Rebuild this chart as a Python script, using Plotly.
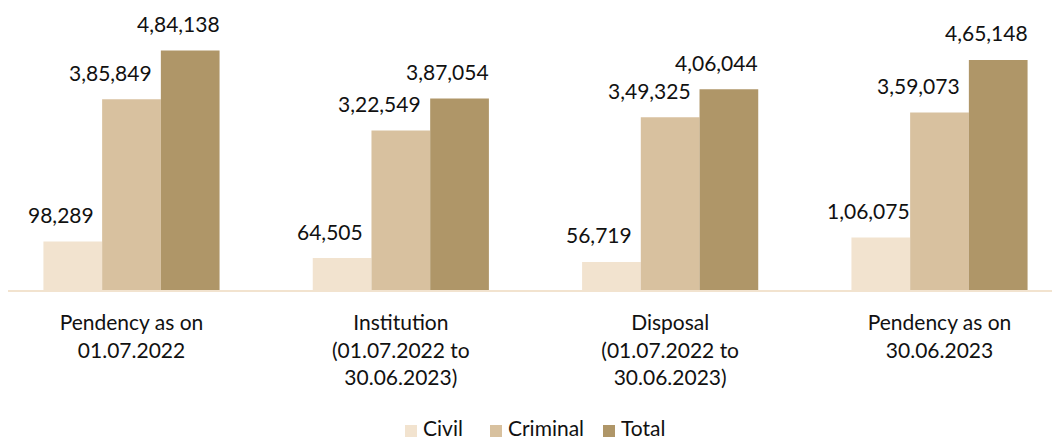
import plotly.graph_objects as go

# Case statistics, 01.07.2022 to 30.06.2023
categories = [
    "Pendency as on<br>01.07.2022",
    "Institution<br>(01.07.2022 to<br>30.06.2023)",
    "Disposal<br>(01.07.2022 to<br>30.06.2023)",
    "Pendency as on<br>30.06.2023",
]
series_names = ["Civil", "Criminal", "Total"]
civil = [98289, 64505, 56719, 106075]
criminal = [385849, 322549, 349325, 359073]
total = [484138, 387054, 406044, 465148]

colors = ["#F2E3CF", "#D8C19F", "#AF9668"]
label_xshift = [-12, -21, -12]
FONT = "Lato, 'Open Sans', sans-serif"
TEXT = "#111111"
BARGAP = 0.346

W, H = 1052, 442
M_L, M_R, M_T, M_B = 8, 0, 0, 152


def indian_format(n):
    """Group digits the Indian way: last three, then pairs."""
    s = str(int(n))
    if len(s) <= 3:
        return s
    head, tail = s[:-3], s[-3:]
    parts = []
    while len(head) > 2:
        parts.insert(0, head[-2:])
        head = head[:-2]
    if head:
        parts.insert(0, head)
    return ",".join(parts + [tail])


xs = list(range(len(categories)))
values = [civil, criminal, total]

fig = go.Figure()
for name, vals, col in zip(series_names, values, colors):
    fig.add_trace(go.Bar(
        x=xs, y=vals, name=name,
        marker=dict(color=col, line=dict(width=0)),
        hoverinfo="skip", showlegend=False,
    ))

# value labels above each bar
bar_w = (1 - BARGAP) / len(series_names)
for i, vals in enumerate(values):
    offset = (i - (len(series_names) - 1) / 2) * bar_w
    for xi, v in zip(xs, vals):
        fig.add_annotation(
            x=xi + offset, y=v, text=indian_format(v),
            showarrow=False, xanchor="center", yanchor="middle",
            xshift=label_xshift[i], yshift=27,
            font=dict(family=FONT, size=21, color=TEXT),
        )

# legend row under the chart: swatch + label per series
plot_w = W - M_L - M_R
plot_h = H - M_T - M_B
legend_px_left = [405, 490, 603]   # swatch left edges in page pixels
swatch_mid = 431                   # vertical centre of the swatches
swatch = 12


def px_to_paper_x(px):
    return (px - M_L) / plot_w


def py_to_paper_y(py):
    return (H - M_B - py) / plot_h


for name, col, left in zip(series_names, colors, legend_px_left):
    fig.add_shape(
        type="rect", xref="paper", yref="paper",
        x0=px_to_paper_x(left), x1=px_to_paper_x(left + swatch),
        y0=py_to_paper_y(swatch_mid + swatch / 2),
        y1=py_to_paper_y(swatch_mid - swatch / 2),
        fillcolor=col, line=dict(width=0), layer="above",
    )
    fig.add_annotation(
        xref="paper", yref="paper",
        x=px_to_paper_x(left + swatch + 4), y=py_to_paper_y(H),
        text=name, showarrow=False, xanchor="left", yanchor="bottom",
        font=dict(family=FONT, size=21, color=TEXT),
    )

fig.update_layout(
    width=W, height=H,
    margin=dict(l=M_L, r=M_R, t=M_T, b=M_B),
    paper_bgcolor="white", plot_bgcolor="white",
    barmode="group", bargap=BARGAP, bargroupgap=0,
    font=dict(family=FONT, size=21, color=TEXT),
    showlegend=False,
    xaxis=dict(
        range=[-0.4585, 3.4177],
        tickmode="array", tickvals=xs, ticktext=categories,
        showline=True, linecolor="#F2E3CF", linewidth=2,
        showgrid=False, zeroline=False, ticks="",
        ticklabelstandoff=13,
        tickfont=dict(family=FONT, size=21, color=TEXT),
    ),
    yaxis=dict(
        range=[0, 586450], visible=False, showgrid=False, zeroline=False,
    ),
)

fig.write_html("out.html")
